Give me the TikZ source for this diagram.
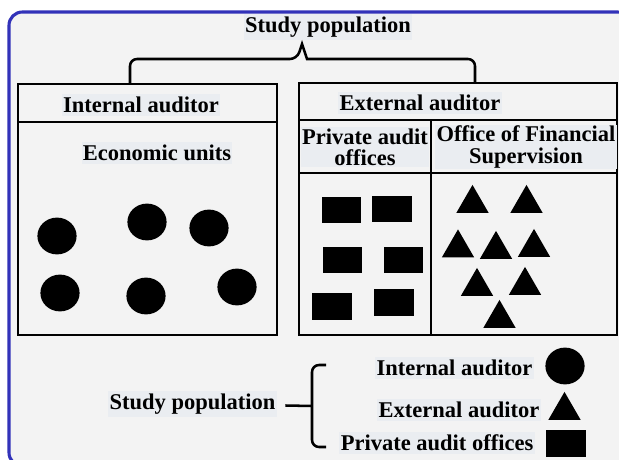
\documentclass[tikz,border=0pt]{standalone}
\usepackage{fontspec}
\setmainfont{Liberation Serif}
\usepackage{tikz}
\usetikzlibrary{shapes.geometric, positioning}

\definecolor{framecol}{RGB}{50,50,185}
\definecolor{panelcol}{RGB}{243,243,243}
\definecolor{markcol}{RGB}{234,237,241}

\begin{document}
\begin{tikzpicture}[x=0.025cm, y=-0.025cm]
        % Setup the styles
        \tikzset{label style/.style={font=\bfseries\fontsize{16}{18}\selectfont,
                                     fill=markcol, inner xsep=1pt, inner ysep=2pt,
                                     align=center},
                 box style/.style={draw=black, line width=1.8pt},
                 brace style/.style={draw=black, line width=1.8pt},
                 unit dot/.style={ellipse, fill=black, inner sep=0pt,
                                  minimum width=0.98cm, minimum height=0.92cm},
                 office box/.style={rectangle, fill=black, inner sep=0pt,
                                    minimum width=0.98cm, minimum height=0.66cm},
                 fsb mark/.style={regular polygon, regular polygon sides=3,
                                  fill=black, inner sep=0pt, minimum size=0.93cm}}

        \clip (0,0) rectangle (619,460);
        \fill[white] (0,0) rectangle (619,460);

        % Draw the frame
        \draw[framecol, fill=panelcol, line width=2.2pt, rounded corners=9.5pt]
            (9,12) rectangle (631,466);

        % Draw the boxes
        \draw[box style] (18,84) rectangle (277,335);
        \draw[box style] (18,122) -- (277,122);
        \draw[box style] (299,83) rectangle (617,335);
        \draw[box style] (299,120) -- (617,120);
        \draw[box style] (299,173) -- (617,173);
        \draw[box style] (431,120) -- (431,335);

        % Draw the labels
        \node[label style] at (328,27)  (title)    {Study population};
        \node[label style] at (141,105) (inthead)  {Internal auditor};
        \node[label style] at (157,153) (econ)     {Economic units};
        \node[label style] at (420,103) (exthead)  {External auditor};
        \node[label style, inner ysep=1pt] at (365,147) (private)
            {Private audit\\[-3pt]offices};
        \node[label style, inner ysep=1pt] at (526,147) (ofs)
            {Office of Financial\\[-3pt]Supervision};

        % Top brace
        \coordinate (intleg) at (130,84);
        \coordinate (extleg) at (475,82);
        \coordinate (tip) at (302,44);
        \draw[brace style] (intleg) [rounded corners=5pt] |- (297,59)
            [sharp corners] -- (tip) -- (307,59)
            [rounded corners=5pt] -| (extleg);

        % Economic units
        \node[unit dot] at (57,236)  (u1) {};
        \node[unit dot] at (147,222) (u2) {};
        \node[unit dot] at (209,228) (u3) {};
        \node[unit dot] at (60,293)  (u4) {};
        \node[unit dot] at (146,296) (u5) {};
        \node[unit dot] at (237,287) (u6) {};

        % Private audit offices
        \node[office box] at (341.5,210) (p1) {};
        \node[office box] at (392,209)   (p2) {};
        \node[office box] at (342.5,260) (p3) {};
        \node[office box] at (403.5,260) (p4) {};
        \node[office box] at (332,306.5) (p5) {};
        \node[office box] at (394,302.5) (p6) {};

        % Office of Financial Supervision
        \node[fsb mark] at (472.5,203.5) (f1) {};
        \node[fsb mark] at (526.5,203.5) (f2) {};
        \node[fsb mark] at (458,248)     (f3) {};
        \node[fsb mark] at (496,249.5)   (f4) {};
        \node[fsb mark] at (534,247.5)   (f5) {};
        \node[fsb mark] at (477,286.5)   (f6) {};
        \node[fsb mark] at (525,285.5)   (f7) {};
        \node[fsb mark] at (499.5,318.5) (f8) {};

        % Legend
        \node[label style, anchor=east] at (277,404) (legtitle) {Study population};
        \coordinate (legtip) at (312,406);
        \draw[brace style] (legtitle.east) ++(6pt,1.5) -- (legtip);
        \draw[brace style, rounded corners=5pt] (326,365) -| (312,447) -- (326,447);

        \node[label style, anchor=east] at (534,368) (legint) {Internal auditor};
        \node[label style, anchor=east] at (541,410) (legext) {External auditor};
        \node[label style, anchor=east] at (535,443) (legpriv) {Private audit offices};

        \node[unit dot] at (565,366) (legdot) {};
        \node[fsb mark] at (564.5,410.5) (legtri) {};
        \node[office box, minimum width=1cm, minimum height=0.68cm] at (566,443.5) (legbox) {};
\end{tikzpicture}
\end{document}
